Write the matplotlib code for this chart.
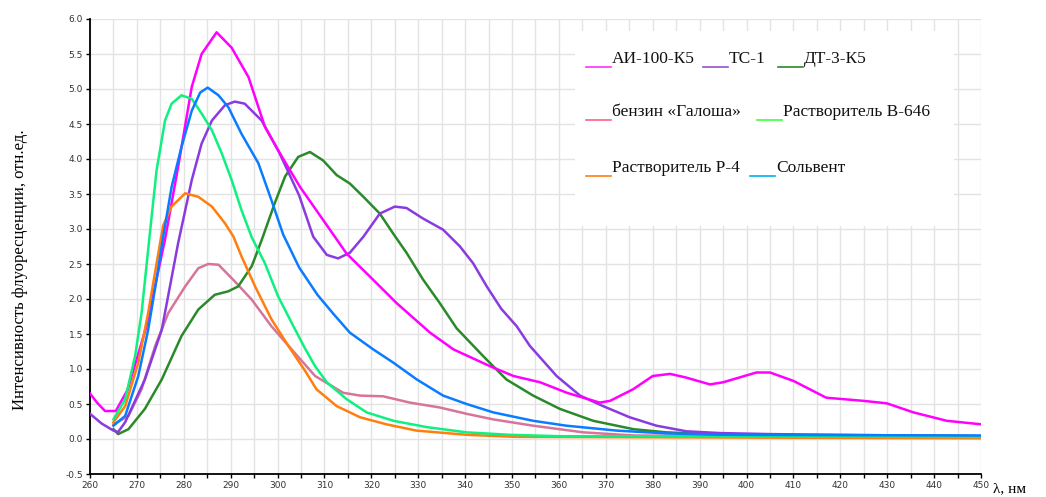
import matplotlib
matplotlib.use("Agg")
import matplotlib.pyplot as plt
from matplotlib.patches import Rectangle
from matplotlib.lines import Line2D
from matplotlib.ticker import MultipleLocator, FormatStrFormatter

ai100_x = [260, 261.5, 263.2, 265.5, 268, 272, 276, 278.8, 281.7, 283.8, 287, 290.2, 293.8,
           297.3, 300.5, 304.8, 309.7, 314.7, 320, 325.4, 332.5, 337.5, 345.3, 350.3, 356,
           361.7, 368.7, 370.9, 375.8, 380, 383.7, 387, 392.2, 395, 402.1, 405, 410, 417,
           424.9, 429.9, 435.6, 442.7, 450]
ai100_y = [0.65, 0.52, 0.40, 0.40, 0.70, 1.60, 2.85, 3.89, 5.03, 5.50, 5.81, 5.59, 5.17,
           4.46, 4.08, 3.60, 3.13, 2.65, 2.30, 1.94, 1.52, 1.28, 1.04, 0.90, 0.81,
           0.66, 0.52, 0.545, 0.71, 0.90, 0.93, 0.88, 0.78, 0.81, 0.95, 0.95, 0.83, 0.59,
           0.545, 0.51, 0.38, 0.26, 0.21]

ts1_x = [260, 262.5, 265, 266, 267.5, 271.7, 275.3, 278.8, 281.7, 283.8, 286, 288.8, 290.9,
         293, 296.6, 300.3, 304.6, 307.6, 310.5, 312.9, 315.4, 318.3, 321.8, 325, 327.5,
         331, 335.3, 338.9, 341.7, 344.6, 347.7, 351, 353.8, 359.5, 364.5, 369.4, 375.1,
         380.8, 387.2, 394.3, 405, 450]
ts1_y = [0.36, 0.22, 0.12, 0.10, 0.24, 0.85, 1.56, 2.80, 3.70, 4.22, 4.55, 4.77, 4.82,
         4.79, 4.55, 4.10, 3.48, 2.89, 2.63, 2.58, 2.66, 2.89, 3.22, 3.32, 3.30,
         3.15, 2.99, 2.75, 2.51, 2.18, 1.86, 1.61, 1.33, 0.90, 0.62, 0.47, 0.31,
         0.19, 0.11, 0.085, 0.07, 0.04]

dt3_x = [265, 266, 268.2, 271.7, 275.3, 279.5, 283.1, 286.6, 289.5, 291.6, 294.5, 296.6,
         299.4, 301.6, 304.4, 306.9, 309.7, 312.6, 315.4, 318.3, 321.8, 324.6, 327.5, 331,
         334.6, 338.2, 343.9, 348.8, 354.5, 360.2, 367.3, 375.9, 383, 395, 450]
dt3_y = [0.14, 0.07, 0.14, 0.43, 0.85, 1.47, 1.85, 2.06, 2.11, 2.18, 2.47, 2.84,
         3.37, 3.75, 4.03, 4.10, 3.98, 3.77, 3.65, 3.46, 3.22, 2.94, 2.66, 2.28,
         1.94, 1.58, 1.18, 0.85, 0.62, 0.43, 0.26, 0.14, 0.095, 0.06, 0.04]

galosha_x = [265, 268.2, 271, 273.9, 276.7, 280.3, 283.1, 285.2, 287.4, 290.9, 294.5, 298.7,
             303, 308, 314, 317.6, 322.5, 328.2, 334.6, 340.3, 346, 354.5, 365.2, 375.9, 450]
galosha_y = [0.21, 0.33, 0.71, 1.33, 1.80, 2.18, 2.44, 2.50, 2.49, 2.25, 1.99, 1.61,
             1.28, 0.90, 0.66, 0.62, 0.61, 0.52, 0.45, 0.36, 0.28, 0.19, 0.095, 0.05, 0.02]

b646_x = [265, 267.5, 269.6, 271, 272.1, 272.8, 274.2, 276, 277.4, 279.5, 281.7, 283.8, 286,
          288.1, 290.2, 292.3, 294.5, 297.3, 300.1, 303, 305.8, 308, 310.5, 314.7, 319,
          324.7, 331.8, 340.3, 349.5, 360, 450]
b646_y = [0.28, 0.57, 1.18, 1.80, 2.51, 2.96, 3.84, 4.55, 4.79, 4.91, 4.86, 4.65, 4.41,
          4.08, 3.70, 3.27, 2.88, 2.51, 2.04, 1.66, 1.30, 1.04, 0.81, 0.57, 0.38,
          0.26, 0.17, 0.095, 0.06, 0.04, 0.03]

r4_x = [265, 267.5, 270.3, 272.4, 274.2, 275.6, 277.4, 280.3, 283.1, 286, 288.8, 290.6,
        292.3, 295.2, 298.7, 302.3, 305.8, 308.3, 312.6, 317.6, 323.2, 329.6, 340.3, 351, 450]
r4_y = [0.24, 0.47, 1.09, 1.80, 2.51, 3.05, 3.32, 3.51, 3.46, 3.32, 3.08, 2.89,
        2.61, 2.18, 1.71, 1.33, 0.98, 0.71, 0.47, 0.31, 0.21, 0.12, 0.06, 0.03, 0.01]

solvent_x = [265, 267.5, 270.3, 272.4, 274.2, 275.6, 277.4, 279.5, 281.7, 283.5, 285.1, 287.4,
             289.5, 292.3, 295.9, 298.7, 301.2, 304.6, 308.5, 312, 315.4, 320.4, 324.7, 329.7,
             335.3, 340.3, 346, 354.5, 361.6, 372.3, 383, 395, 450]
solvent_y = [0.19, 0.33, 0.90, 1.56, 2.28, 2.89, 3.60, 4.17, 4.69, 4.95, 5.02, 4.91,
             4.74, 4.36, 3.94, 3.41, 2.92, 2.45, 2.06, 1.78, 1.52, 1.28, 1.09, 0.85,
             0.62, 0.50, 0.38, 0.26, 0.19, 0.12, 0.08, 0.06, 0.05]

names = ["АИ-100-К5", "ТС-1", "ДТ-3-К5", "бензин «Галоша»", "Растворитель В-646",
         "Растворитель Р-4", "Сольвент"]
colors = ["#ff00ff", "#8a3be0", "#2a8a2a", "#d8749a", "#10f080", "#ff7f0e", "#0a7cff"]
legend_colors = ["#ff30ff", "#9a50d0", "#2a8a2a", "#ff6080", "#40ff40", "#ff7f0e", "#00b0f0"]

series = [(ai100_x, ai100_y), (ts1_x, ts1_y), (dt3_x, dt3_y), (galosha_x, galosha_y),
          (b646_x, b646_y), (r4_x, r4_y), (solvent_x, solvent_y)]

W, H = 1046, 497
fig = plt.figure(figsize=(W / 100, H / 100), dpi=100)
ax = fig.add_axes([90 / W, 1 - 474 / H, (981 - 90) / W, (474 - 19) / H])

# Рисуем в порядке, близком к оригиналу
order = [3, 2, 1, 0, 5, 4, 6]
for i in order:
    xs, ys = series[i]
    ax.plot(xs, ys, color=colors[i], lw=1.8, zorder=3, solid_joinstyle="round")

ax.set_xlim(260, 450)
ax.set_ylim(-0.5, 6.0)
ax.xaxis.set_major_locator(MultipleLocator(10))
ax.xaxis.set_minor_locator(MultipleLocator(5))
ax.yaxis.set_major_locator(MultipleLocator(0.5))
ax.yaxis.set_major_formatter(FormatStrFormatter("%.1f"))
ax.set_axisbelow(True)
ax.grid(True, which="both", color="#e3e3e3", lw=1.0)
for s in ["top", "right"]:
    ax.spines[s].set_visible(False)
for s in ["left", "bottom"]:
    ax.spines[s].set_linewidth(1.3)
ax.tick_params(axis="both", which="both", direction="out", length=3, width=1,
               labelsize=6.5, labelcolor="#333333", pad=2)

# Белая подложка под легенду
ax.add_patch(Rectangle((363.5, 3.05), 80.8, 2.78, facecolor="white",
                       edgecolor="none", zorder=1))

# Легенда (вручную, как в оригинале)
leg = [
    (586, 63, 0), (703, 63, 1), (778, 63, 2),
    (586, 116, 3), (757, 116, 4),
    (586, 172, 5), (750, 172, 6),
]
for px, py, i in leg:
    fig.add_artist(Line2D([px / W, (px + 25) / W], [1 - (py + 4) / H, 1 - (py + 4) / H],
                          color=legend_colors[i], lw=1.2))
    fig.text((px + 26) / W, 1 - py / H, names[i], fontsize=12.5, family="Liberation Serif",
             va="baseline", ha="left", color="#111111")

fig.text(20 / W, 1 - 270 / H, "Интенсивность флуоресценции, отн.ед.", rotation=90,
         fontsize=12, family="Liberation Serif", va="center", ha="center")
fig.text(993 / W, 1 - 492 / H, "λ, нм", fontsize=11, family="Liberation Serif",
         va="baseline", ha="left")

fig.savefig("out.png", dpi=100)
